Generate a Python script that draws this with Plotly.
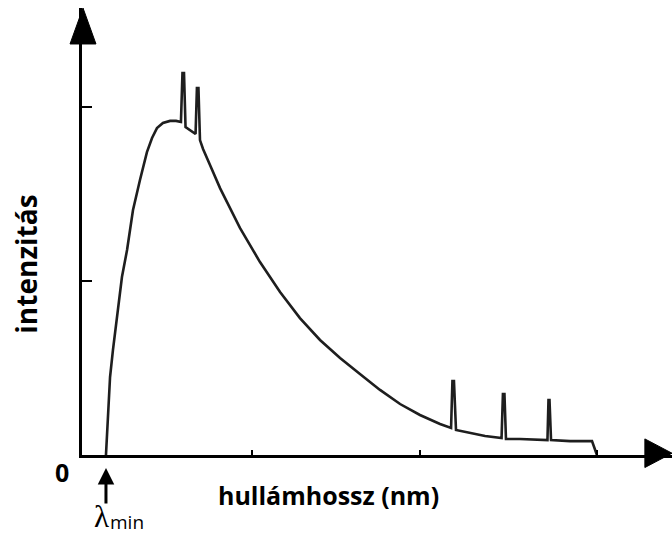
import plotly.graph_objects as go

# Wavelength (arbitrary units, tick spacing = 1) and intensity (arbitrary units)
wavelength = [0.141, 0.153, 0.165, 0.182, 0.206, 0.235, 0.265, 0.300, 0.341, 0.382,
              0.412, 0.441, 0.476, 0.518, 0.553, 0.582,
              0.591, 0.600, 0.609, 0.624, 0.647, 0.668,
              0.676, 0.685, 0.694, 0.712, 0.753, 0.812,
              0.929, 1.047, 1.165, 1.282, 1.400, 1.518, 1.635, 1.753, 1.871, 1.988,
              2.106, 2.171,
              2.179, 2.188, 2.200, 2.282, 2.371, 2.468,
              2.476, 2.485, 2.494, 2.576, 2.738,
              2.744, 2.750, 2.759, 2.871, 3.000, 3.029]
intensity = [0.000, 0.259, 0.448, 0.603, 0.793, 1.023, 1.178, 1.408, 1.580, 1.741,
             1.822, 1.879, 1.908, 1.920, 1.920, 1.914,
             2.195, 2.195, 1.885, 1.874, 1.856, 1.845,
             2.109, 2.109, 1.810, 1.759, 1.667, 1.534,
             1.305, 1.109, 0.937, 0.787, 0.661, 0.557, 0.466, 0.374, 0.293, 0.230,
             0.178, 0.155,
             0.425, 0.425, 0.144, 0.126, 0.109, 0.098,
             0.351, 0.351, 0.092, 0.092, 0.086,
             0.316, 0.316, 0.086, 0.080, 0.080, 0.000]

x_ticks = [1.0, 1.99, 3.03]
y_ticks = [1.0, 2.0]
lambda_min = 0.141

x_title = "hullámhossz (nm)"
y_title = "intenzitás"

FONT = "Open Sans"

fig = go.Figure()
fig.add_trace(go.Scatter(x=wavelength, y=intensity, mode="lines",
                         line=dict(color="#1e1e1e", width=2.6),
                         hoverinfo="skip", showlegend=False, cliponaxis=False))

fig.update_layout(
    width=672, height=537,
    margin=dict(l=82, r=0, t=8, b=82, pad=0),
    paper_bgcolor="white", plot_bgcolor="white",
    showlegend=False,
    xaxis=dict(range=[0, 3.4706], showgrid=False, zeroline=False,
               showline=True, linecolor="black", linewidth=2.5,
               ticks="inside", tickvals=x_ticks, ticklen=5, tickwidth=2,
               tickcolor="black", showticklabels=False, fixedrange=True),
    yaxis=dict(range=[0, 2.569], showgrid=False, zeroline=False,
               showline=True, linecolor="black", linewidth=3,
               ticks="inside", tickvals=y_ticks, ticklen=10, tickwidth=2,
               tickcolor="black", showticklabels=False, fixedrange=True),
    shapes=[
        # y-axis arrowhead
        dict(type="path", xref="paper", yref="paper",
             path="M -0.0203,0.9195 L 0.0017,1.0 L 0.0237,0.9195 Z",
             fillcolor="black", line=dict(color="black", width=1)),
        # x-axis arrowhead
        dict(type="path", xref="paper", yref="paper",
             path="M 0.954,0.036 L 1.0,0.004 L 0.954,-0.028 Z",
             fillcolor="black", line=dict(color="black", width=1)),
    ],
    annotations=[
        dict(text="<b>0</b>", xref="paper", yref="paper", x=-0.034, y=-0.038,
             showarrow=False, xanchor="center", yanchor="middle",
             font=dict(family=FONT, size=25, color="black")),
        dict(text="<b>" + x_title + "</b>", xref="paper", yref="paper",
             x=0.417, y=-0.0895, showarrow=False, xanchor="center", yanchor="middle",
             font=dict(family=FONT, size=25, color="black")),
        dict(text="<b>" + y_title + "</b>", xref="paper", yref="paper",
             x=-0.094, y=0.427, showarrow=False, textangle=-90,
             xanchor="center", yanchor="middle",
             font=dict(family=FONT, size=28, color="black")),
        # lambda_min arrow
        dict(text="", x=lambda_min, xref="x", yref="paper", y=-0.029,
             showarrow=True, ax=0, ay=37, arrowhead=2, arrowwidth=3,
             arrowsize=1.1, arrowcolor="black", standoff=0),
        dict(text="λ", x=lambda_min, xref="x", yref="paper", y=-0.137,
             xshift=-4, showarrow=False, xanchor="center", yanchor="middle",
             font=dict(family="Liberation Serif", size=31, color="black")),
        dict(text="min", x=lambda_min, xref="x", yref="paper", y=-0.150,
             xshift=3, showarrow=False, xanchor="left", yanchor="middle",
             borderpad=0, font=dict(family=FONT, size=19, color="black")),
    ],
)

fig.write_html("out.html", config={"displayModeBar": False},
               post_script="document.body.style.margin='0';")
